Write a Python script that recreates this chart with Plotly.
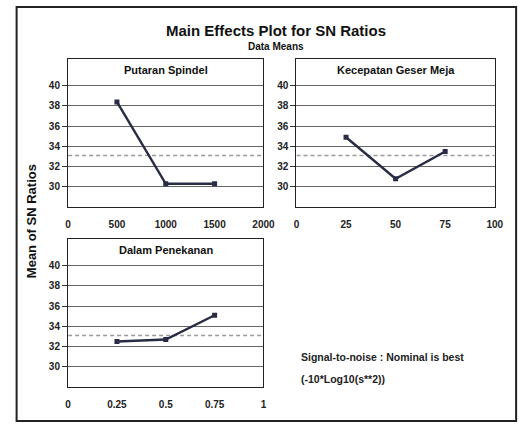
import plotly.graph_objects as go

W, H = 532, 424

# Data
factors = ["Putaran Spindel", "Kecepatan Geser Meja", "Dalam Penekanan"]
levels_spindel = [500, 1000, 1500]
sn_spindel = [38.4, 30.3, 30.3]
levels_meja = [25, 50, 75]
sn_meja = [34.9, 30.8, 33.5]
levels_tekan = [0.25, 0.5, 0.75]
sn_tekan = [32.5, 32.7, 35.1]
grand_mean = 33.1
x_ticks_spindel = [0, 500, 1000, 1500, 2000]
x_ticks_meja = [0, 25, 50, 75, 100]
x_ticks_tekan = [0, 0.25, 0.5, 0.75, 1]
x_ticklabels_tekan = ["0", "0.25", "0.5", "0.75", "1"]
y_ticks = [30, 32, 34, 36, 38, 40]

FONT = "Liberation Sans, Arial, sans-serif"
LINE_COL = "#282c44"

def px_x(p):
    return p / W

def px_y(p):
    return 1 - p / H

panels = [
    dict(x=levels_spindel, y=sn_spindel, xr=[0, 2000], xt=x_ticks_spindel, xtl=[str(v) for v in x_ticks_spindel],
         dx=[px_x(67), px_x(268)], dy=[px_y(207), px_y(59)], title=factors[0]),
    dict(x=levels_meja, y=sn_meja, xr=[0, 100], xt=x_ticks_meja, xtl=[str(v) for v in x_ticks_meja],
         dx=[px_x(302), px_x(506)], dy=[px_y(207), px_y(59)], title=factors[1]),
    dict(x=levels_tekan, y=sn_tekan, xr=[0, 1], xt=x_ticks_tekan, xtl=x_ticklabels_tekan,
         dx=[px_x(67), px_x(268)], dy=[px_y(387), px_y(239)], title=factors[2]),
]

fig = go.Figure()
annotations = []
shapes = []
for i, p in enumerate(panels):
    n = "" if i == 0 else str(i + 1)
    xa, ya = "x" + n, "y" + n
    fig.add_trace(go.Scatter(x=p["xr"], y=[grand_mean, grand_mean], mode="lines",
                             line=dict(color="#9a9a9a", width=1.3, dash="4px,3px"),
                             xaxis=xa, yaxis=ya, showlegend=False, hoverinfo="skip"))
    fig.add_trace(go.Scatter(x=p["x"], y=p["y"], mode="lines+markers",
                             line=dict(color=LINE_COL, width=2.4),
                             marker=dict(color=LINE_COL, size=5, symbol="square"),
                             xaxis=xa, yaxis=ya, showlegend=False))
    fig.layout["xaxis" + n] = dict(domain=p["dx"], anchor=ya, range=p["xr"], tickvals=p["xt"],
                                   ticktext=p["xtl"], showgrid=False, zeroline=False,
                                   showline=True, mirror=True, linecolor="#222", linewidth=1.3,
                                   ticks="", ticklabelstandoff=8,
                                   tickfont=dict(family=FONT, size=10, color="#222", weight="bold"))
    fig.layout["yaxis" + n] = dict(domain=p["dy"], anchor=xa, range=[28.0, 42.65], tickvals=y_ticks,
                                   showgrid=True, gridcolor="#666", gridwidth=1.3, zeroline=False,
                                   showline=True, mirror=True, linecolor="#222", linewidth=1.3,
                                   ticks="outside", ticklen=5, tickcolor="#333",
                                   tickfont=dict(family=FONT, size=10, color="#222", weight="bold"))
    annotations.append(dict(text="<b>%s</b>" % p["title"], x=(p["dx"][0] + p["dx"][1]) / 2,
                            y=p["dy"][1] - 11 / H, xref="paper", yref="paper", showarrow=False,
                            font=dict(family=FONT, size=11, color="#111"), xanchor="center", yanchor="middle"))

annotations += [
    dict(text="<b>Main Effects Plot for SN Ratios</b>", x=px_x(281), y=px_y(30), xref="paper", yref="paper",
         showarrow=False, font=dict(family=FONT, size=15, color="#111"), xanchor="center", yanchor="middle"),
    dict(text="<b>Data Means</b>", x=px_x(281), y=px_y(46), xref="paper", yref="paper",
         showarrow=False, font=dict(family=FONT, size=10, color="#111"), xanchor="center", yanchor="middle"),
    dict(text="<b>Mean of SN Ratios</b>", x=px_x(29), y=px_y(221), xref="paper", yref="paper",
         showarrow=False, textangle=-90, font=dict(family=FONT, size=13, color="#111"),
         xanchor="center", yanchor="middle"),
    dict(text="<b>Signal-to-noise : Nominal is best</b>", x=px_x(305), y=px_y(357), xref="paper", yref="paper",
         showarrow=False, font=dict(family=FONT, size=10.5, color="#222"), xanchor="left", yanchor="middle"),
    dict(text="<b>(-10*Log10(s**2))</b>", x=px_x(305), y=px_y(379), xref="paper", yref="paper",
         showarrow=False, font=dict(family=FONT, size=10.5, color="#222"), xanchor="left", yanchor="middle"),
]

shapes.append(dict(type="rect", xref="paper", yref="paper", x0=px_x(14), x1=px_x(528),
                   y0=px_y(421), y1=px_y(7), line=dict(color="#222", width=2)))

fig.update_layout(width=W, height=H, margin=dict(l=0, r=0, t=0, b=0),
                  paper_bgcolor="white", plot_bgcolor="white",
                  annotations=annotations, shapes=shapes, showlegend=False)

fig.write_html("out.html", config={"displayModeBar": False},
               post_script="document.body.style.margin='0';document.body.style.overflow='hidden';")
